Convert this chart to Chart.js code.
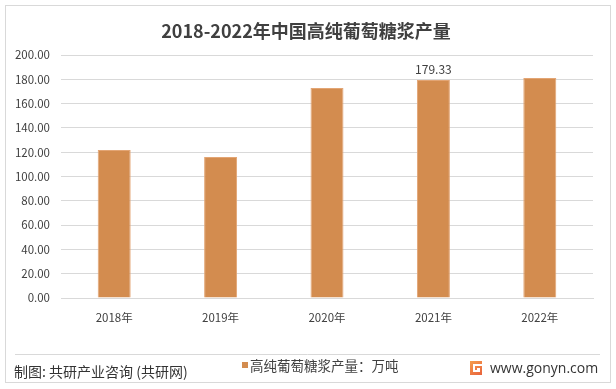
<!DOCTYPE html>
<html>
<head>
<meta charset="utf-8">
<script src="https://cdn.jsdelivr.net/npm/chart.js@4/dist/chart.umd.min.js"></script>
<style>
html,body{margin:0;padding:0;background:#fff;}
#wrap{position:relative;width:616px;height:389px;}
canvas{display:block;}
</style>
</head>
<body>
<div id="wrap"><canvas id="c" width="616" height="389"></canvas></div>
<script>
const categories = ["2018年", "2019年", "2020年", "2021年", "2022年"];
const production = [121.8, 116.0, 172.8, 179.33, 181.1];
const labeledIndex = [3];
const seriesName = "高纯葡萄糖浆产量：万吨";
const titleText = "2018-2022年中国高纯葡萄糖浆产量";
const sourceText = "制图: 共研产业咨询 (共研网)";
const siteText = "www.gonyn.com";

const FONT = '"Noto Sans CJK SC", "Noto Sans", sans-serif';
const BAR = '#D38C4F';
const TXT = '#404040';

const decor = {
  id: 'decor',
  beforeDraw(chart) {
    const ctx = chart.ctx;
    ctx.save();
    ctx.fillStyle = '#fff';
    ctx.fillRect(0, 0, chart.width, chart.height);
    ctx.strokeStyle = '#d9d9d9';
    ctx.lineWidth = 1;
    ctx.strokeRect(5.5, 5.5, 605, 377);
    ctx.restore();
  },
  afterDraw(chart) {
    const ctx = chart.ctx;
    ctx.save();
    // title
    ctx.fillStyle = TXT;
    ctx.font = 'bold 18px ' + FONT;
    ctx.textAlign = 'center';
    ctx.textBaseline = 'middle';
    ctx.fillText(titleText, 306, 31);
    // data labels
    const meta = chart.getDatasetMeta(0);
    ctx.font = '12px ' + FONT;
    ctx.fillStyle = TXT;
    ctx.textBaseline = 'bottom';
    labeledIndex.forEach(i => {
      const el = meta.data[i];
      ctx.fillText(production[i].toFixed(2), el.x, el.y - 5);
    });
    // separator
    ctx.strokeStyle = '#d9d9d9';
    ctx.beginPath();
    ctx.moveTo(15, 354.5);
    ctx.lineTo(600, 354.5);
    ctx.stroke();
    // legend
    ctx.fillStyle = BAR;
    ctx.fillRect(242, 362, 6, 6);
    ctx.fillStyle = TXT;
    ctx.font = '13.5px ' + FONT;
    ctx.textAlign = 'left';
    ctx.textBaseline = 'middle';
    ctx.fillText(seriesName, 250, 366);
    // source
    ctx.fillStyle = '#333333';
    ctx.font = '14px ' + FONT;
    ctx.fillText(sourceText, 14, 372);
    // logo icon
    const grd = ctx.createLinearGradient(470, 360, 482, 376);
    grd.addColorStop(0, '#F6A04D');
    grd.addColorStop(1, '#E8603C');
    ctx.fillStyle = grd;
    ctx.fillRect(470, 361, 12, 14);
    ctx.fillStyle = '#fff';
    ctx.fillRect(473, 364, 9, 2);
    ctx.fillRect(473, 366, 2, 6);
    ctx.fillRect(475, 370, 5, 2);
    ctx.fillRect(477, 368, 3, 2);
    // site
    ctx.fillStyle = '#333333';
    ctx.font = '14px "Open Sans", "DejaVu Sans", sans-serif';
    ctx.fillText(siteText, 490, 369);
    ctx.restore();
  }
};

new Chart(document.getElementById('c'), {
  type: 'bar',
  data: {
    labels: categories,
    datasets: [{
      label: seriesName,
      data: production,
      backgroundColor: BAR,
      borderColor: '#E3A574',
      borderWidth: 1,
      categoryPercentage: 1,
      barPercentage: 0.31
    }]
  },
  options: {
    responsive: false,
    animation: false,
    devicePixelRatio: 1,
    layout: { padding: { left: 0, right: 23, top: 55, bottom: 60 } },
    plugins: { legend: { display: false }, title: { display: false }, tooltip: { enabled: false } },
    scales: {
      x: {
        grid: { display: false, drawTicks: false },
        border: { display: true, color: '#d9d9d9' },
        ticks: { color: TXT, font: { family: FONT, size: 11.5 }, padding: 13, maxRotation: 0 },
        afterFit(s) { s.height = 31; }
      },
      y: {
        min: 0, max: 200,
        grid: { color: '#d9d9d9', drawTicks: false },
        border: { display: false },
        ticks: {
          stepSize: 20, color: TXT, font: { family: FONT, size: 11.5 }, padding: 11,
          callback: v => Number(v).toFixed(2)
        },
        afterFit(s) { s.width = 61; }
      }
    }
  },
  plugins: [decor]
});
</script>
</body>
</html>
